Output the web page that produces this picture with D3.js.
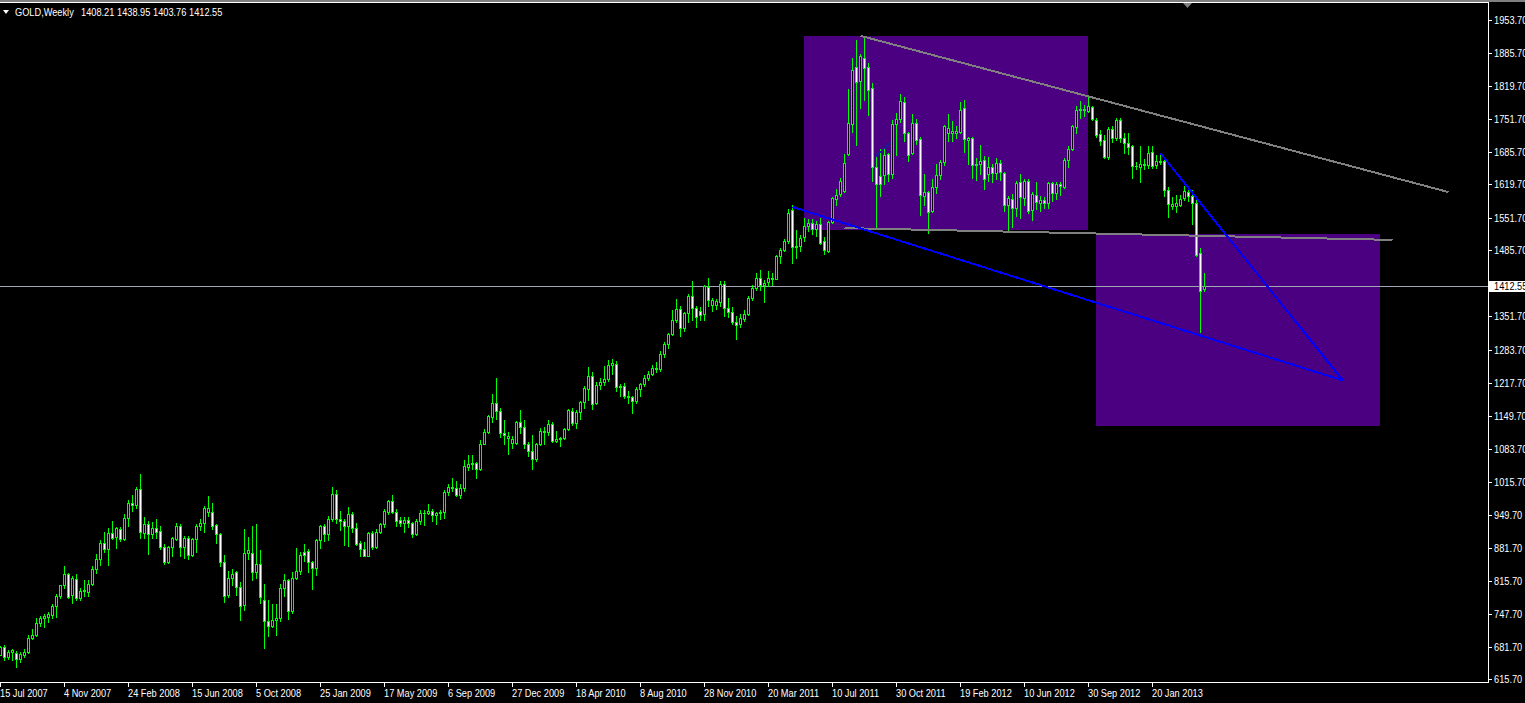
<!DOCTYPE html>
<html>
<head>
<meta charset="utf-8">
<script src="https://cdn.jsdelivr.net/npm/d3@7"></script>
<style>
  body { margin: 0; background: #000; overflow: hidden; }
  svg { display: block; }
  text { font-family: "Liberation Sans", Arial, sans-serif; font-size: 11px; fill: #fff; }
</style>
</head>
<body>
<svg id="chart" width="1525" height="703"></svg>
<script>
// weekly GOLD bars, 15 Jul 2007 .. 21 Apr 2013
const opens = [
  666,682,661,671,670,656,666,671,699,705, 729,741,742,747,764,784,806,830,786,820,
  781,794,792,810,839,859,893,881,912,904, 921,901,943,974,970,1001,912,930,911,923,
  916,885,854,884,901,926,885,902,868,900, 927,932,955,956,928,910,854,786,822,833,
  803,766,871,871,833,849,776,733,724,735, 741,800,817,755,821,835,874,876,854,841,
  898,927,910,940,991,940,936,926,950,922, 893,879,866,912,884,915,931,956,978,955,
  938,932,938,932,911,937,953,954,957,949, 953,955,996,1006,1004,990,1003,1047,1052,1055,
  1043,1094,1117,1148,1176,1159,1115,1106,1096,1096, 1137,1128,1092,1079,1062,1092,1120,1117,1134,1100,
  1104,1106,1123,1159,1135,1157,1178,1205,1231,1176, 1212,1218,1225,1254,1256,1208,1210,1191,1188,1181,
  1204,1215,1227,1236,1247,1246,1276,1296,1317,1345, 1366,1328,1358,1393,1368,1362,1356,1412,1375,1375,
  1382,1417,1368,1360,1341,1337,1347,1357,1390,1410, 1430,1416,1421,1430,1428,1474,1487,1505,1567,1493,
  1495,1512,1535,1542,1529,1539,1505,1485,1543,1591, 1601,1606,1681,1743,1858,1829,1877,1857,1815,1655,
  1636,1638,1681,1640,1742,1752,1786,1724,1683,1745, 1711,1597,1605,1565,1614,1639,1665,1724,1723,1724,
  1726,1774,1710,1713,1658,1662,1669,1640,1655,1643, 1664,1642,1578,1590,1571,1625,1593,1627,1568,1598,
  1581,1588,1581,1622,1602,1620,1615,1670,1691,1737, 1770,1773,1768,1777,1751,1721,1709,1676,1731,1714,
  1750,1713,1703,1697,1657,1654,1658,1659,1686,1658, 1667,1667,1609,1575,1576,1578,1592,1604,1597,1581,
  1480,1408.21
];
const highs = [
  683,685,676,677,674,671,677,705,718,740, 745,748,752,768,789,807,845,832,825,829,
  800,817,817,845,870,898,914,922,937,925, 925,950,979,990,1006,1032,944,937,934,940,
  926,890,887,904,932,930,906,907,903,930, 941,968,988,973,930,913,867,836,840,836,
  813,920,904,926,930,877,809,776,768,768, 810,829,819,833,882,874,890,880,856,900,
  928,930,946,1006,999,958,940,966,956,932, 897,895,915,916,921,933,961,979,990,962,
  944,945,945,934,941,960,959,972,962,955, 959,999,1011,1025,1018,1011,1061,1070,1070,1057,
  1101,1123,1151,1194,1227,1166,1141,1118,1109,1139, 1161,1141,1098,1112,1096,1126,1128,1141,1137,1120,
  1108,1126,1165,1167,1161,1180,1210,1249,1240,1218, 1227,1251,1263,1265,1262,1215,1216,1201,1190,1208,
  1217,1233,1242,1254,1259,1281,1300,1318,1365,1387, 1372,1361,1398,1424,1373,1371,1415,1430,1389,1388,
  1423,1423,1389,1371,1353,1356,1364,1393,1416,1440, 1445,1426,1444,1440,1477,1491,1509,1570,1577,1527,
  1516,1551,1549,1550,1545,1552,1512,1545,1594,1610, 1632,1682,1814,1877,1912,1885,1921,1866,1826,1678,
  1692,1693,1683,1751,1764,1802,1796,1725,1762,1752, 1716,1640,1607,1630,1660,1670,1740,1762,1749,1738,
  1786,1791,1716,1715,1674,1699,1677,1675,1660,1673, 1670,1645,1597,1600,1627,1640,1630,1630,1605,1625,
  1597,1595,1625,1625,1625,1625,1673,1697,1741,1778, 1788,1781,1796,1779,1755,1730,1720,1737,1738,1754,
  1755,1723,1723,1699,1665,1697,1672,1697,1697,1680, 1683,1674,1615,1595,1598,1598,1616,1612,1608,1587,
  1491,1438.95
];
const lows = [
  664,655,656,655,640,650,660,669,697,703, 723,722,731,740,742,781,801,781,771,777,
  777,785,785,807,832,847,874,848,901,883, 896,899,926,958,963,903,902,870,903,903,
  879,849,852,865,899,866,862,860,865,873, 918,915,946,921,892,846,772,782,806,786,
  735,756,859,817,822,771,680,704,722,705, 734,785,739,750,820,830,856,834,799,828,
  882,896,898,937,933,919,888,886,914,889, 866,865,865,880,882,913,924,950,954,927,
  927,914,925,905,908,931,928,951,937,930, 940,943,990,998,987,984,997,1040,1043,1025,
  1040,1094,1115,1137,1143,1108,1093,1073,1085,1093, 1115,1085,1069,1042,1058,1090,1094,1111,1098,1098,
  1088,1103,1121,1132,1126,1143,1167,1182,1165,1174, 1204,1213,1220,1234,1200,1190,1186,1177,1155,1176,
  1190,1211,1222,1233,1240,1241,1269,1287,1315,1340, 1313,1322,1340,1345,1331,1345,1345,1373,1362,1366,
  1372,1352,1351,1337,1307,1330,1342,1355,1386,1405, 1405,1381,1414,1416,1427,1460,1484,1500,1461,1471,
  1484,1505,1525,1518,1515,1498,1478,1483,1541,1578, 1597,1604,1680,1726,1699,1775,1790,1761,1627,1532,
  1596,1620,1626,1632,1679,1747,1707,1667,1681,1701, 1557,1578,1522,1563,1603,1630,1658,1707,1707,1713,
  1723,1686,1661,1632,1629,1640,1611,1626,1625,1630, 1628,1566,1526,1534,1555,1551,1577,1562,1548,1570,
  1565,1571,1572,1585,1590,1598,1612,1654,1690,1723, 1755,1758,1766,1750,1715,1700,1673,1672,1705,1709,
  1705,1684,1681,1633,1650,1625,1651,1652,1652,1652, 1660,1597,1554,1569,1563,1576,1588,1586,1539,1475,
  1321,1403.76
];
const closes = [
  681,661,672,675,656,667,672,699,705,729, 741,744,748,764,784,806,830,783,822,780,
  794,796,810,839,859,893,881,912,903,922, 901,943,973,970,1001,915,930,910,923,915,
  884,854,884,903,926,884,903,868,900,927, 932,963,963,927,910,854,785,822,830,803,
  764,871,877,834,850,782,733,723,735,741, 800,817,755,821,835,868,867,853,841,898,
  927,910,940,991,940,937,927,950,922,891, 879,866,912,884,915,931,957,978,955,937,
  932,938,932,911,937,953,954,957,949,953, 955,996,1006,1004,990,1003,1048,1052,1055,1043,
  1094,1117,1150,1176,1159,1115,1111,1110,1104,1137, 1128,1092,1079,1062,1092,1120,1117,1134,1100,1104,
  1106,1123,1162,1135,1158,1178,1206,1231,1174,1213, 1219,1225,1254,1258,1208,1210,1191,1188,1181,1204,
  1215,1227,1236,1247,1246,1275,1296,1317,1344,1366, 1328,1358,1393,1368,1351,1354,1413,1385,1385,1383,
  1417,1368,1360,1341,1335,1348,1357,1390,1410,1429, 1415,1419,1429,1428,1474,1487,1505,1561,1493,1495,
  1511,1535,1542,1530,1539,1500,1486,1543,1592,1599, 1627,1664,1745,1851,1828,1880,1855,1811,1655,1621,
  1621,1679,1640,1742,1753,1789,1723,1679,1745,1710, 1598,1605,1563,1615,1639,1666,1738,1734,1727,1728,
  1771,1712,1713,1658,1662,1667,1630,1655,1643,1664, 1644,1578,1592,1572,1622,1595,1626,1566,1600,1583,
  1588,1582,1622,1602,1621,1616,1669,1691,1738,1771, 1773,1771,1779,1752,1720,1708,1675,1731,1714,1750,
  1713,1703,1696,1657,1656,1662,1662,1684,1656,1667, 1666,1609,1579,1580,1581,1591,1606,1597,1581,1477,
  1404,1412.55
];

// time axis labels, one every 16 bars starting at bar 0
const dateLabels = ["15 Jul 2007","4 Nov 2007","24 Feb 2008","15 Jun 2008","5 Oct 2008","25 Jan 2009",
  "17 May 2009","6 Sep 2009","27 Dec 2009","18 Apr 2010","8 Aug 2010","28 Nov 2010","20 Mar 2011",
  "10 Jul 2011","30 Oct 2011","19 Feb 2012","10 Jun 2012","30 Sep 2012","20 Jan 2013"];
const labelStep = 16;
const priceTicks = [1953.70,1885.70,1819.70,1751.70,1685.70,1619.70,1551.70,1485.70,1351.70,1283.70,
  1217.70,1149.70,1083.70,1015.70,949.70,881.70,815.70,747.70,681.70,615.70];
const bidPrice = 1412.55;
const headerSymbol = "GOLD,Weekly";
const headerOHLC = ["1408.21","1438.95","1403.76","1412.55"];

// chart objects in (bar index, price)
const zones = [
  {i0: 201, p0: 1921, i1: 272, p1: 1527},
  {i0: 274, p0: 1520, i1: 345, p1: 1130}
];
const grayLines = [
  {i0: 215, p0: 1921, i1: 362, p1: 1604},
  {i0: 211, p0: 1531, i1: 348, p1: 1507}
];
const blueLines = [
  {i0: 198, p0: 1574, i1: 335.6, p1: 1222},
  {i0: 290, p0: 1683, i1: 335.6, p1: 1222}
];
const navyLines = [
  {i0: 218.9, p0: 1677, i1: 222.4, p1: 1704}
];

const W = 1525, H = 703;
const narrow = 0.84;   // squeeze to get the slim terminal font look
const svg = d3.select("#chart");

let x = d3.scaleLinear().domain([0, 301]).range([0.5, 1204.5]);
let y = d3.scaleLinear().domain([615.7, 1953.7]).range([679.3, 19.7]);
let ry = v => Math.round(y(v));
let place = (px, py) => `translate(${px},${py}) scale(${narrow},1)`;

svg.append("rect").attr("width", W).attr("height", H).attr("fill", "#000");
svg.append("rect").attr("width", W).attr("height", 2).attr("fill", "#808080");

svg.append("defs").append("clipPath").attr("id", "plotclip")
  .append("rect").attr("x", 0).attr("y", 3).attr("width", 1488).attr("height", 679);

let plot = svg.append("g").attr("clip-path", "url(#plotclip)");

// background rectangles
plot.selectAll(".zone").data(zones).join("rect")
  .attr("class", "zone")
  .attr("x", d => x(d.i0) - 0.5)
  .attr("width", d => x(d.i1) - x(d.i0))
  .attr("y", d => ry(d.p0))
  .attr("height", d => ry(d.p1) - ry(d.p0))
  .attr("fill", "#4b0082");

// bid line
plot.append("rect")
  .attr("x", 0).attr("width", 1488)
  .attr("y", ry(bidPrice)).attr("height", 1)
  .attr("fill", "#9ea7b3");

// candles
let bars = d3.range(closes.length).map(i => ({i: i, o: opens[i], h: highs[i], l: lows[i], c: closes[i]}));
let cg = plot.append("g").attr("shape-rendering", "crispEdges");

cg.selectAll(".wick").data(bars).join("rect")
  .attr("class", "wick")
  .attr("x", d => x(d.i) - 0.5).attr("width", 1)
  .attr("y", d => ry(d.h))
  .attr("height", d => ry(d.l) - ry(d.h) + 1)
  .attr("fill", "#00ff00");

cg.selectAll(".body").data(bars).join("rect")
  .attr("class", "body")
  .attr("x", d => x(d.i) - 1.5).attr("width", 3)
  .attr("y", d => ry(Math.max(d.o, d.c)))
  .attr("height", d => ry(Math.min(d.o, d.c)) - ry(Math.max(d.o, d.c)) + 1)
  .attr("fill", "#00ff00");

cg.selectAll(".fill").data(bars.filter(d => ry(Math.min(d.o, d.c)) - ry(Math.max(d.o, d.c)) > 1)).join("rect")
  .attr("class", "fill")
  .attr("x", d => x(d.i) - 0.5).attr("width", 1)
  .attr("y", d => ry(Math.max(d.o, d.c)) + 1)
  .attr("height", d => ry(Math.min(d.o, d.c)) - ry(Math.max(d.o, d.c)) - 1)
  .attr("fill", d => d.c >= d.o ? "#000" : "#fff");

// trend lines
function drawLines(data, color) {
  plot.selectAll(null).data(data).join("line")
    .attr("x1", d => x(d.i0)).attr("y1", d => y(d.p0))
    .attr("x2", d => x(d.i1)).attr("y2", d => y(d.p1))
    .attr("stroke", color).attr("stroke-width", 2)
    .attr("shape-rendering", "crispEdges");
}
drawLines(grayLines, "#808080");
drawLines(blueLines, "#0000ff");
drawLines(navyLines, "#1a1a9a");

// frame
svg.append("rect").attr("x", 0).attr("y", 2).attr("width", 1489).attr("height", 1).attr("fill", "#fff");
svg.append("rect").attr("x", 1488).attr("y", 2).attr("width", 1).attr("height", 681).attr("fill", "#fff");
svg.append("rect").attr("x", 0).attr("y", 682).attr("width", 1489).attr("height", 1).attr("fill", "#fff");

// chart shift marker
svg.append("path").attr("d", "M1183,3 L1192,3 L1187.5,8 Z").attr("fill", "#808080");

// price axis
let yAxis = svg.append("g");
yAxis.selectAll(".ytick").data(priceTicks).join("rect")
  .attr("x", 1489).attr("width", 3)
  .attr("y", d => ry(d)).attr("height", 1)
  .attr("fill", "#fff");
yAxis.selectAll(".ylab").data(priceTicks).join("text")
  .attr("transform", d => place(1494, ry(d) + 4))
  .text(d => d.toFixed(2));

yAxis.append("rect")
  .attr("x", 1489).attr("y", ry(bidPrice) - 5)
  .attr("width", 36).attr("height", 11)
  .attr("fill", "#fff");
yAxis.append("text")
  .attr("transform", place(1494, ry(bidPrice) + 4))
  .style("fill", "#000")
  .text(bidPrice.toFixed(2));

// time axis
let xAxis = svg.append("g");
xAxis.selectAll(".xtick").data(dateLabels).join("rect")
  .attr("x", (d, k) => x(k * labelStep) - 0.5).attr("width", 1)
  .attr("y", 683).attr("height", 4)
  .attr("fill", "#fff");
xAxis.selectAll(".xlab").data(dateLabels).join("text")
  .attr("transform", (d, k) => place(x(k * labelStep) - 0.5, 697))
  .text(d => d);

// header
svg.append("path").attr("d", "M3,10 L9,10 L6,14 Z").attr("fill", "#fff");
svg.append("text").attr("transform", place(15, 16)).text(headerSymbol);
svg.selectAll(".ohlc").data(headerOHLC).join("text")
  .attr("transform", (d, k) => place(81 + k * 36, 16))
  .text(d => d);
</script>
</body>
</html>
